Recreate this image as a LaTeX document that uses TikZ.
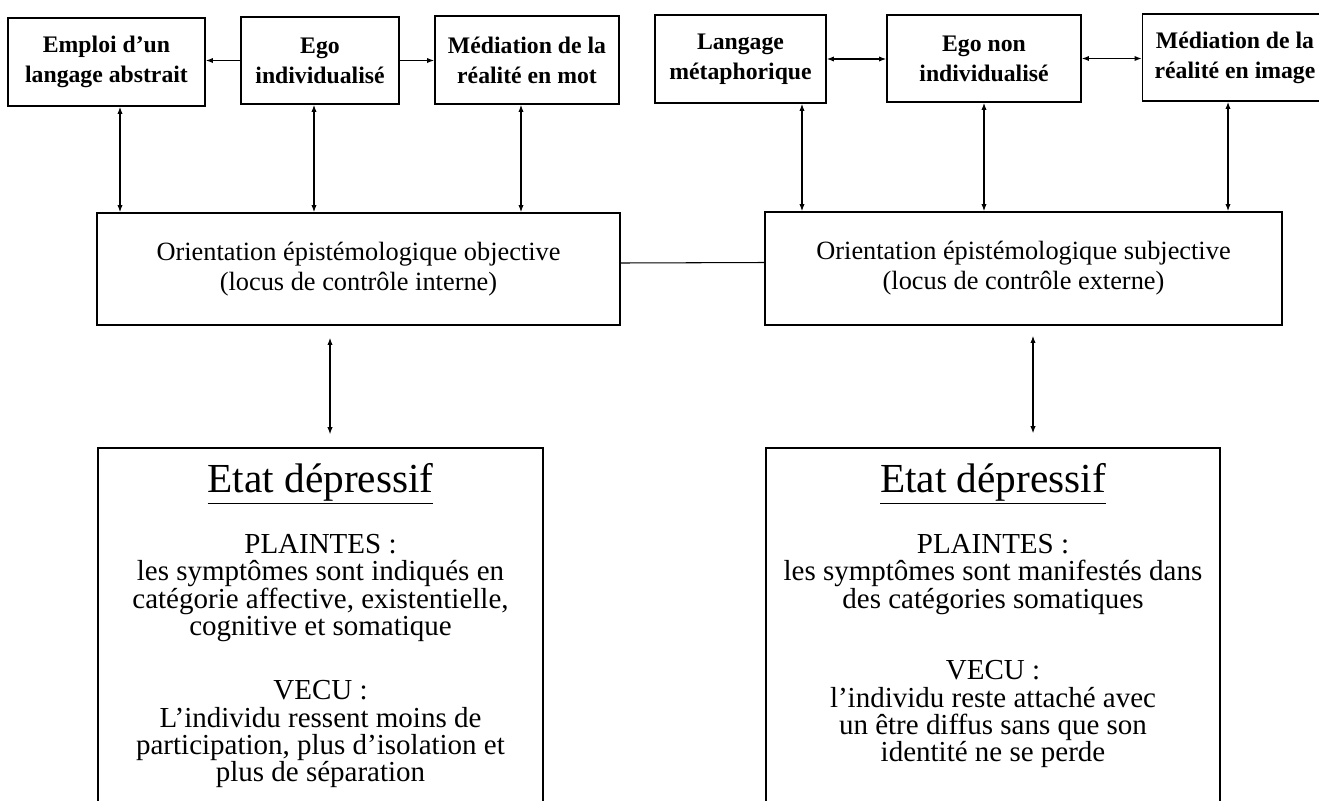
\documentclass[tikz,border=0pt]{standalone}
\usepackage{fontspec}
\setmainfont{Liberation Serif}
\usetikzlibrary{arrows.meta}
\tikzset{topbox/.style={draw, line width=1.1pt, align=center, inner sep=2pt, font=\fontsize{13.5}{17}\selectfont\bfseries},
         orbox/.style={draw, line width=1.1pt, align=center, inner sep=2pt, font=\fontsize{15}{17}\selectfont},
         frame/.style={draw, line width=0.9pt},
         title/.style={inner sep=0pt, font=\fontsize{23.5}{24}\selectfont},
         txt/.style={align=center, inner sep=0pt, anchor=north, font=\fontsize{16.5}{15.6}\selectfont},
         dbl/.style={{Latex[length=4pt,width=3pt]}-{Latex[length=4pt,width=3pt]}, line width=0.6pt},
         arr/.style={-{Latex[length=4pt,width=3pt]}, line width=0.6pt}}

\begin{document}
\begin{tikzpicture}[x=0.02cm,y=-0.02cm]
\useasboundingbox (0,0) rectangle (1319,801);
% top row, left
\node[topbox, minimum width=3.94cm, minimum height=1.76cm] (abstr) at (106.5,62) {Emploi d'un\\langage abstrait};
\node[topbox, minimum width=3.16cm, minimum height=1.74cm] (egoind) at (320,60.5) {Ego\\individualisé};
\node[topbox, minimum width=3.68cm, minimum height=1.76cm] (medmot) at (527,60) {Médiation de la\\réalité en mot};
% top row, right
\node[topbox, minimum width=3.42cm, minimum height=1.76cm] (metaph) at (740.5,59) {Langage\\métaphorique};
\node[topbox, minimum width=3.88cm, minimum height=1.74cm] (egonon) at (984,58.5) {Ego non\\individualisé};
\node[topbox, minimum width=3.7cm, minimum height=1.74cm] (medimg) at (1235,57.5) {Médiation de la\\réalité en image};
% orientations
\node[orbox, minimum width=10.46cm, minimum height=2.24cm] (objec) at (358.5,269) {Orientation épistémologique objective\\(locus de contrôle interne)};
\node[orbox, minimum width=10.34cm, minimum height=2.26cm] (subjec) at (1023.5,268.5) {Orientation épistémologique subjective\\(locus de contrôle externe)};
% depressive state, boxes run off the page
\node[frame, minimum width=8.9cm, minimum height=7.44cm] (depL) at (320.5,634) {};
\node[frame, minimum width=9.08cm, minimum height=7.44cm] (depR) at (993,634) {};
\node[title] (titL) at (320.5,484) {\underline{Etat dépressif}};
\node[title] (titR) at (993,484) {\underline{Etat dépressif}};
\node[txt] (txtL) at (320.5,534) {PLAINTES :\\les symptômes sont indiqués en\\catégorie affective, existentielle,\\cognitive et somatique\\[0.73cm]VECU :\\L'individu ressent moins de\\participation, plus d'isolation et\\plus de séparation};
\node[txt] (txtR) at (993,534) {PLAINTES :\\les symptômes sont manifestés dans\\des catégories somatiques\\[0.88cm]VECU :\\l'individu reste attaché avec\\un être diffus sans que son\\identité ne se perde};
% connectors
\draw[arr] (egoind.west) -- (egoind.west -| abstr.east);
\draw[arr] (egoind.east) -- (egoind.east -| medmot.west);
\draw[dbl] (metaph.east) -- (metaph.east -| egonon.west);
\draw[dbl] (egonon.east) -- (egonon.east -| medimg.west);
\foreach \n/\s/\t in {abstr/0.27/objec, egoind/-0.12/objec, medmot/-0.12/objec, metaph/1.23/subjec, egonon/0/subjec, medimg/-0.14/subjec}
  {\draw[dbl] ([xshift=\s cm]\n.south) -- ([xshift=\s cm]\n.south |- \t.north);}
\draw[line width=0.6pt] ([yshift=0.12cm]objec.east) -- ([yshift=0.12cm]subjec.west);
\draw[dbl, shorten <=0.24cm, shorten >=0.26cm] ([xshift=0.19cm]depL.north |- objec.south) -- ([xshift=0.19cm]depL.north);
\draw[dbl, shorten <=0.2cm, shorten >=0.28cm] ([xshift=0.19cm]subjec.south) -- ([xshift=0.19cm]subjec.south |- depR.north);
\end{tikzpicture}
\end{document}
